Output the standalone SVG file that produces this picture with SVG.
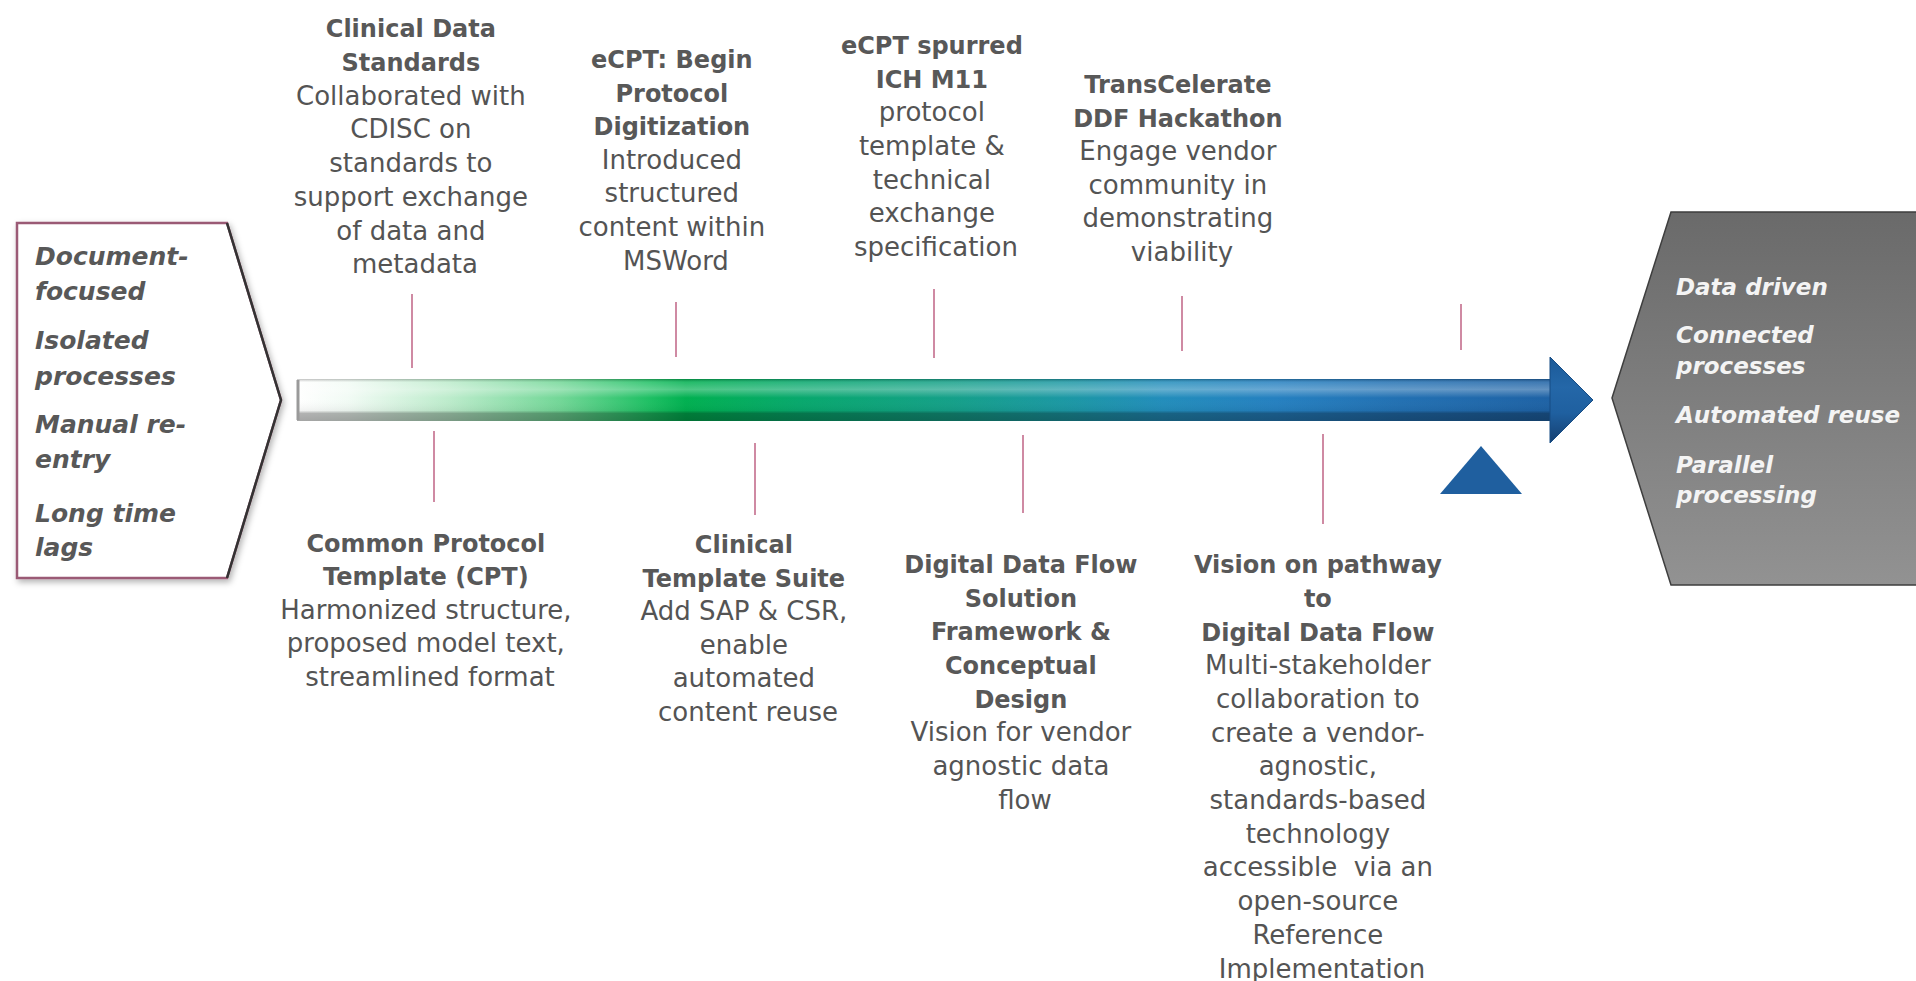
<svg xmlns="http://www.w3.org/2000/svg" width="1916" height="981" viewBox="0 0 1916 981">
  <defs>
    <linearGradient id="shaftColor" gradientUnits="userSpaceOnUse" x1="297" y1="0" x2="1552" y2="0">
      <stop offset="0" stop-color="#ffffff"/>
      <stop offset="0.04" stop-color="#f2fbf5"/>
      <stop offset="0.12" stop-color="#bdeccc"/>
      <stop offset="0.21" stop-color="#72d797"/>
      <stop offset="0.28" stop-color="#1fc064"/>
      <stop offset="0.31" stop-color="#00b050"/>
      <stop offset="0.40" stop-color="#07a86c"/>
      <stop offset="0.52" stop-color="#14a088"/>
      <stop offset="0.61" stop-color="#1b98a3"/>
      <stop offset="0.69" stop-color="#228dbb"/>
      <stop offset="0.78" stop-color="#2580c0"/>
      <stop offset="0.88" stop-color="#2270b2"/>
      <stop offset="1" stop-color="#1e62a5"/>
    </linearGradient>
    <linearGradient id="shaftShade" x1="0" y1="0" x2="0" y2="1">
      <stop offset="0" stop-color="#000000" stop-opacity="0.25"/>
      <stop offset="0.08" stop-color="#ffffff" stop-opacity="0.15"/>
      <stop offset="0.25" stop-color="#ffffff" stop-opacity="0.30"/>
      <stop offset="0.45" stop-color="#ffffff" stop-opacity="0"/>
      <stop offset="0.75" stop-color="#000000" stop-opacity="0.05"/>
      <stop offset="0.82" stop-color="#000000" stop-opacity="0.30"/>
      <stop offset="1" stop-color="#000000" stop-opacity="0.35"/>
    </linearGradient>
    <linearGradient id="headColor" x1="0" y1="0" x2="0" y2="1">
      <stop offset="0" stop-color="#1b5a98"/>
      <stop offset="0.35" stop-color="#2467a8"/>
      <stop offset="0.65" stop-color="#1f60a0"/>
      <stop offset="1" stop-color="#153f70"/>
    </linearGradient>
    <linearGradient id="greyBox" x1="0" y1="0" x2="0" y2="1">
      <stop offset="0" stop-color="#6a6a6a"/>
      <stop offset="1" stop-color="#929292"/>
    </linearGradient>
    <filter id="softShadow" x="-10%" y="-10%" width="130%" height="130%">
      <feDropShadow dx="2" dy="3" stdDeviation="3" flood-color="#000" flood-opacity="0.3"/>
    </filter>
    <style>
      text { font-family: "DejaVu Sans", "Liberation Sans", sans-serif; }
      .ev { text-anchor: middle; fill: #545454; font-size: 26px; }
      .ev .t { font-weight: bold; font-size: 24px; fill: #585858; }
      .state { font-weight: bold; font-style: italic; font-size: 25px; fill: #585858; }
      .goal { font-weight: bold; font-style: italic; font-size: 23px; fill: #f4f4f4; }
      .stem { stroke: #cf8aa3; stroke-width: 2; }
    </style>
  </defs>

  <rect width="1916" height="981" fill="#ffffff"/>

  <!-- starting state -->
  <g id="current-state">
    <polygon points="17,223 227,223 281,400 227,578 17,578" fill="#ffffff" stroke="#9a5a74" stroke-width="2.5" filter="url(#softShadow)"/>
    <polyline points="227,223 281,400 227,578" fill="none" stroke="#333333" stroke-width="2.5"/>
    <text class="state">
      <tspan x="35" y="265">Document-</tspan>
      <tspan x="35" y="300">focused</tspan>
      <tspan x="35" y="349">Isolated</tspan>
      <tspan x="35" y="385">processes</tspan>
      <tspan x="35" y="433">Manual re-</tspan>
      <tspan x="35" y="468">entry</tspan>
      <tspan x="35" y="522">Long time</tspan>
      <tspan x="35" y="556">lags</tspan>
    </text>
  </g>

  <!-- target state -->
  <g id="future-state">
    <polygon points="1612,398 1671,212 1922,212 1922,585 1671,585" fill="url(#greyBox)" stroke="#3e3e3e" stroke-width="1.5"/>
    <text class="goal">
      <tspan x="1676" y="295">Data driven</tspan>
      <tspan x="1676" y="343">Connected</tspan>
      <tspan x="1676" y="374">processes</tspan>
      <tspan x="1676" y="423">Automated reuse</tspan>
      <tspan x="1676" y="473">Parallel</tspan>
      <tspan x="1676" y="503">processing</tspan>
    </text>
  </g>

  <!-- timeline arrow -->
  <g id="timeline">
    <rect x="297" y="379" width="1255" height="42" fill="url(#shaftColor)"/>
    <rect x="297" y="379" width="1255" height="42" fill="url(#shaftShade)"/>
    <line x1="298" y1="380" x2="298" y2="420" stroke="#9a9a9a" stroke-width="3"/>
    <polygon points="1550,357 1593,400 1550,443" fill="url(#headColor)" stroke="#174c84" stroke-width="1"/>
    <polygon points="1481,446 1440,494 1522,494" fill="#1f5f9f"/>
  </g>

  <!-- ticks joining each milestone to the timeline -->
  <g id="connectors">
    <line class="stem" x1="412" y1="294" x2="412" y2="368"/>
    <line class="stem" x1="676" y1="302" x2="676" y2="357"/>
    <line class="stem" x1="934" y1="289" x2="934" y2="358"/>
    <line class="stem" x1="1182" y1="296" x2="1182" y2="351"/>
    <line class="stem" x1="1461" y1="304" x2="1461" y2="350"/>
    <line class="stem" x1="434" y1="431" x2="434" y2="502"/>
    <line class="stem" x1="755" y1="443" x2="755" y2="515"/>
    <line class="stem" x1="1023" y1="435" x2="1023" y2="513"/>
    <line class="stem" x1="1323" y1="434" x2="1323" y2="524"/>
  </g>

  <!-- milestones above the line -->
  <g id="clinical-data-standards">
    <text class="ev">
      <tspan class="t" x="415" y="37">Clinical Data</tspan>
      <tspan class="t" x="415" y="71">Standards</tspan>
      <tspan x="415" y="105">Collaborated with</tspan>
      <tspan x="415" y="138">CDISC on</tspan>
      <tspan x="415" y="172">standards to</tspan>
      <tspan x="415" y="206">support exchange</tspan>
      <tspan x="415" y="240">of data and</tspan>
      <tspan x="415" y="273">metadata</tspan>
    </text>
  </g>

  <g id="ecpt-begin">
    <text class="ev">
      <tspan class="t" x="676" y="68">eCPT: Begin</tspan>
      <tspan class="t" x="676" y="102">Protocol</tspan>
      <tspan class="t" x="676" y="135">Digitization</tspan>
      <tspan x="676" y="169">Introduced</tspan>
      <tspan x="676" y="202">structured</tspan>
      <tspan x="676" y="236">content within</tspan>
      <tspan x="676" y="270">MSWord</tspan>
    </text>
  </g>

  <g id="ich-m11">
    <text class="ev">
      <tspan class="t" x="936" y="54">eCPT spurred</tspan>
      <tspan class="t" x="936" y="88">ICH M11</tspan>
      <tspan x="936" y="121">protocol</tspan>
      <tspan x="936" y="155">template &amp;</tspan>
      <tspan x="936" y="189">technical</tspan>
      <tspan x="936" y="222">exchange</tspan>
      <tspan x="936" y="256">specification</tspan>
    </text>
  </g>

  <g id="ddf-hackathon">
    <text class="ev">
      <tspan class="t" x="1182" y="93">TransCelerate</tspan>
      <tspan class="t" x="1182" y="127">DDF Hackathon</tspan>
      <tspan x="1182" y="160">Engage vendor</tspan>
      <tspan x="1182" y="194">community in</tspan>
      <tspan x="1182" y="227">demonstrating</tspan>
      <tspan x="1182" y="261">viability</tspan>
    </text>
  </g>

  <!-- milestones below the line -->
  <g id="common-protocol-template">
    <text class="ev">
      <tspan class="t" x="430" y="552">Common Protocol</tspan>
      <tspan class="t" x="430" y="585">Template (CPT)</tspan>
      <tspan x="430" y="619">Harmonized structure,</tspan>
      <tspan x="430" y="652">proposed model text,</tspan>
      <tspan x="430" y="686">streamlined format</tspan>
    </text>
  </g>

  <g id="clinical-template-suite">
    <text class="ev">
      <tspan class="t" x="748" y="553">Clinical</tspan>
      <tspan class="t" x="748" y="587">Template Suite</tspan>
      <tspan x="748" y="620">Add SAP &amp; CSR,</tspan>
      <tspan x="748" y="654">enable</tspan>
      <tspan x="748" y="687">automated</tspan>
      <tspan x="748" y="721">content reuse</tspan>
    </text>
  </g>

  <g id="ddf-framework">
    <text class="ev">
      <tspan class="t" x="1025" y="573">Digital Data Flow</tspan>
      <tspan class="t" x="1025" y="607">Solution</tspan>
      <tspan class="t" x="1025" y="640">Framework &amp;</tspan>
      <tspan class="t" x="1025" y="674">Conceptual</tspan>
      <tspan class="t" x="1025" y="708">Design</tspan>
      <tspan x="1025" y="741">Vision for vendor</tspan>
      <tspan x="1025" y="775">agnostic data</tspan>
      <tspan x="1025" y="809">flow</tspan>
    </text>
  </g>

  <g id="ddf-vision">
    <text class="ev">
      <tspan class="t" x="1322" y="573">Vision on pathway</tspan>
      <tspan class="t" x="1322" y="607">to</tspan>
      <tspan class="t" x="1322" y="641">Digital Data Flow</tspan>
      <tspan x="1322" y="674">Multi-stakeholder</tspan>
      <tspan x="1322" y="708">collaboration to</tspan>
      <tspan x="1322" y="742">create a vendor-</tspan>
      <tspan x="1322" y="775">agnostic,</tspan>
      <tspan x="1322" y="809">standards-based</tspan>
      <tspan x="1322" y="843">technology</tspan>
      <tspan x="1322" y="876">accessible&#160; via an</tspan>
      <tspan x="1322" y="910">open-source</tspan>
      <tspan x="1322" y="944">Reference</tspan>
      <tspan x="1322" y="978">Implementation</tspan>
    </text>
  </g>
</svg>
